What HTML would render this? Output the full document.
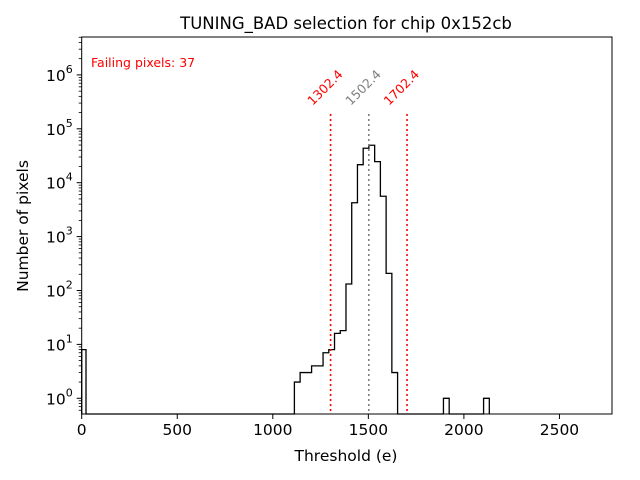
<!DOCTYPE html>
<html><head><meta charset="utf-8"><style>
body{margin:0;background:#fff}
svg{display:block;font-family:"DejaVu Sans","Liberation Sans",sans-serif}
</style></head><body>
<svg id="chart" width="640" height="480" xmlns="http://www.w3.org/2000/svg">
<rect width="640" height="480" fill="#fff"/>
<text x="346" y="29" font-size="16.5" text-anchor="middle">TUNING_BAD selection for chip 0x152cb</text>
<g id="plot"></g>
<text x="346" y="461" font-size="15.5" text-anchor="middle">Threshold (e)</text>
<text transform="translate(28,226) rotate(-90)" font-size="15.5" text-anchor="middle">Number of pixels</text>
<text x="91" y="67" font-size="12.5" fill="red">Failing pixels: 37</text>
</svg>
<script>
const binIndex = [0, 37, 38, 39, 40, 41, 42, 43, 44, 45, 46, 47, 48, 49, 50, 51, 52, 53, 54, 63, 70];
const binCount = [8, 2, 3, 3, 4, 4, 7, 8, 16, 18, 132, 4250, 21600, 43600, 49500, 24600, 5600, 208, 3, 1, 1];
const binWidth = 30.0;
const binOffset = 3;
const xTicks = [0, 500, 1000, 1500, 2000, 2500];
const yDecades = [0, 1, 2, 3, 4, 5, 6];
const cutValues = [1302.4, 1502.4, 1702.4];
const cutColors = ["red", "gray", "red"];

const L = 81.7, R = 612, T = 37, B = 414;
const xMin = 0, xMax = 2775;
const yDec = 53.9, y0px = 398.3;
const X = v => L + (v - xMin) / (xMax - xMin) * (R - L);
const Y = c => y0px - Math.log10(c) * yDec;
const NS = "http://www.w3.org/2000/svg";
const g = document.getElementById('plot');
function mk(tag, attrs, parent) {
  const e = document.createElementNS(NS, tag);
  for (const k in attrs) e.setAttribute(k, attrs[k]);
  (parent || g).appendChild(e);
  return e;
}
const counts = {};
binIndex.forEach((b, i) => counts[b] = binCount[i]);
const maxBin = Math.max(...binIndex);
let d = "";
for (let k = 0; k <= maxBin; k++) {
  let x0 = X(binOffset + k * binWidth);
  let x1 = X(binOffset + (k + 1) * binWidth);
  if (k === 0) { x0 = L; x1 = x1 - 2; }
  if (k === 1) { x0 = X(binOffset + binWidth) - 2; }
  const y = counts[k] ? Y(counts[k]) : B;
  if (k === 0) d += `M${x0},${B}`;
  d += `L${x0},${y}L${x1},${y}`;
}
d += `L${X(binOffset + (maxBin + 1) * binWidth)},${B}`;
const hist = mk('path', {d: d, fill: 'none', stroke: '#000', 'stroke-width': 1.3});


cutValues.forEach((v, i) => {
  const ln = mk('line', {x1: X(v), x2: X(v), y1: 114, y2: B, stroke: cutColors[i], 'stroke-width': 1.6, 'stroke-dasharray': '2,3'});
  
  
  const t = mk('text', {transform: `translate(${X(v) - 18},106) rotate(-45)`, 'font-size': 12.5, fill: cutColors[i]});
  t.textContent = String(v);
  
  
});
const fr = mk('rect', {x: L, y: T, width: R - L, height: B - T, fill: 'none', stroke: '#000', 'stroke-width': 1});


xTicks.forEach(v => {
  mk('line', {x1: X(v), x2: X(v), y1: B, y2: B + 5, stroke: '#000'});
  const t = mk('text', {x: X(v), y: B + 21, 'font-size': 15.5, 'text-anchor': 'middle'});
  t.textContent = v;
  
  
});
yDecades.forEach(p => {
  const y = Y(Math.pow(10, p));
  mk('line', {x1: L - 5, x2: L, y1: y, y2: y, stroke: '#000'});
  const t = mk('text', {x: L - 9, y: y + 6, 'font-size': 15.5, 'text-anchor': 'end'});
  t.innerHTML = `10<tspan dy="-8" font-size="11">${p}</tspan>`;
  
  
});
for (let p = -1; p <= 6; p++) {
  for (let m = 2; m <= 9; m++) {
    const y = Y(m * Math.pow(10, p));
    if (y < T || y > B) continue;
    mk('line', {x1: L - 3, x2: L, y1: y, y2: y, stroke: '#000', 'stroke-width': 0.8});
  }
}
</script>
</body></html>
